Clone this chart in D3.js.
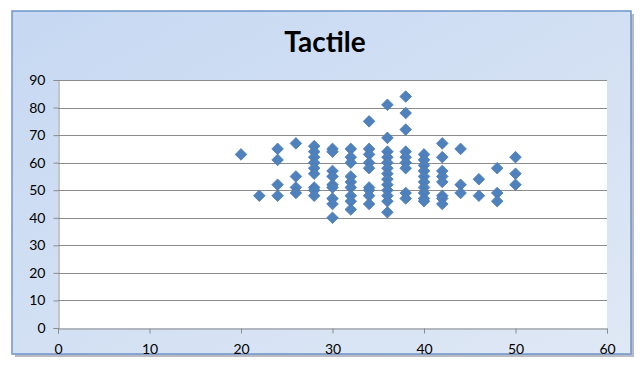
<!DOCTYPE html>
<html>
<head>
<meta charset="utf-8">
<script src="https://cdn.jsdelivr.net/npm/d3@7"></script>
<style>
  html, body { margin: 0; padding: 0; background: #ffffff; }
  svg { display: block; }
  text { font-family: Lato, "Open Sans", sans-serif; fill: #000; }
</style>
</head>
<body>
<svg id="chart" width="640" height="366"></svg>
<script>
// Tactile scores: one x value per point, with its matching y value
const xValues = [
  20,
  22,
  24, 24, 24, 24,
  26, 26, 26, 26,
  28, 28, 28, 28, 28, 28, 28, 28, 28,
  30, 30, 30, 30, 30, 30, 30, 30, 30,
  32, 32, 32, 32, 32, 32, 32, 32, 32,
  34, 34, 34, 34, 34, 34, 34, 34, 34,
  36, 36, 36, 36, 36, 36, 36, 36, 36, 36, 36, 36, 36,
  38, 38, 38, 38, 38, 38, 38, 38, 38,
  40, 40, 40, 40, 40, 40, 40, 40, 40, 40,
  42, 42, 42, 42, 42, 42, 42, 42,
  44, 44, 44,
  46, 46,
  48, 48, 48,
  50, 50, 50
];
const yValues = [
  63,
  48,
  65, 61, 52, 48,
  67, 55, 51, 49,
  66, 64, 62, 60, 58, 56, 51, 50, 48,
  65, 64, 57, 55, 52, 51, 47, 45, 40,
  65, 62, 60, 55, 53, 51, 48, 46, 43,
  75, 65, 63, 60, 58, 51, 50, 48, 45,
  81, 69, 64, 62, 60, 58, 56, 54, 52, 50, 48, 46, 42,
  84, 78, 72, 64, 62, 60, 58, 49, 47,
  63, 61, 59, 57, 55, 53, 51, 49, 47, 46,
  67, 62, 57, 55, 53, 48, 47, 45,
  65, 52, 49,
  54, 48,
  58, 49, 46,
  62, 56, 52
];
const xTicks = [0, 10, 20, 30, 40, 50, 60];
const yTicks = [0, 10, 20, 30, 40, 50, 60, 70, 80, 90];
const chartTitle = "Tactile";

const svg = d3.select("#chart");
const defs = svg.append("defs");

// Chart area background gradient
const bg = defs.append("linearGradient").attr("id", "bgGrad")
  .attr("x1", "0").attr("y1", "0").attr("x2", "1").attr("y2", "1");
bg.append("stop").attr("offset", "0%").attr("stop-color", "#c6d8f2");
bg.append("stop").attr("offset", "100%").attr("stop-color", "#dfe8f5");

const frame = { x: 12, y: 11, w: 619, h: 343 };
// soft shadow along right and bottom edges
svg.append("rect")
  .attr("x", frame.x + 3).attr("y", frame.y + 3)
  .attr("width", frame.w).attr("height", frame.h)
  .attr("fill", "#b9bcc2");
svg.append("rect")
  .attr("x", frame.x).attr("y", frame.y)
  .attr("width", frame.w).attr("height", frame.h)
  .attr("fill", "url(#bgGrad)")
  .attr("stroke", "#6f95cc").attr("stroke-width", 1.5);

const plot = { left: 58, top: 80, right: 607, bottom: 328 };

const x = d3.scaleLinear().domain([0, 60]).range([plot.left, plot.right]);
const y = d3.scaleLinear().domain([0, 90]).range([plot.bottom, plot.top]);

// plot area
svg.append("rect")
  .attr("x", plot.left).attr("y", plot.top)
  .attr("width", plot.right - plot.left).attr("height", plot.bottom - plot.top)
  .attr("fill", "#ffffff");

// horizontal gridlines
svg.append("g")
  .selectAll("line")
  .data(yTicks.filter(d => d > 0))
  .join("line")
  .attr("x1", plot.left).attr("x2", plot.right)
  .attr("y1", d => Math.round(y(d)) + 0.5).attr("y2", d => Math.round(y(d)) + 0.5)
  .attr("stroke", "#8c8c8c").attr("stroke-width", 1);

// y axis
const yAxis = svg.append("g")
  .attr("transform", `translate(${plot.left + 0.5},0)`)
  .call(d3.axisLeft(y).tickValues(yTicks).tickSize(5).tickPadding(8).tickFormat(d3.format("d")));
yAxis.select(".domain").attr("stroke", "#8c8c8c");
yAxis.selectAll(".tick line").attr("stroke", "#8c8c8c");
yAxis.selectAll(".tick text").attr("font-size", 14).attr("fill", "#000")
  .attr("font-family", "Lato, 'Open Sans', sans-serif");

// x axis
const xAxis = svg.append("g")
  .attr("transform", `translate(0,${plot.bottom + 0.5})`)
  .call(d3.axisBottom(x).tickValues(xTicks).tickSize(5).tickPadding(11).tickFormat(d3.format("d")));
xAxis.select(".domain").attr("stroke", "#8c8c8c");
xAxis.selectAll(".tick line").attr("stroke", "#8c8c8c");
xAxis.selectAll(".tick text").attr("font-size", 14).attr("fill", "#000")
  .attr("font-family", "Lato, 'Open Sans', sans-serif");

// diamond markers
const r = 5.8;
const diamond = `M0,${-r}L${r},0L0,${r}L${-r},0Z`;
const points = xValues.map((v, i) => ({ x: v, y: yValues[i] }));
svg.append("g")
  .selectAll("path")
  .data(points)
  .join("path")
  .attr("d", diamond)
  .attr("transform", d => `translate(${x(d.x)},${y(d.y)})`)
  .attr("fill", "#4f81bd")
  .attr("stroke", "#4a7ab5")
  .attr("stroke-width", 0.8);

// title
svg.append("text")
  .attr("x", 325).attr("y", 52)
  .attr("text-anchor", "middle")
  .attr("font-size", 28).attr("font-weight", 700)
  .text(chartTitle);
</script>
</body>
</html>
